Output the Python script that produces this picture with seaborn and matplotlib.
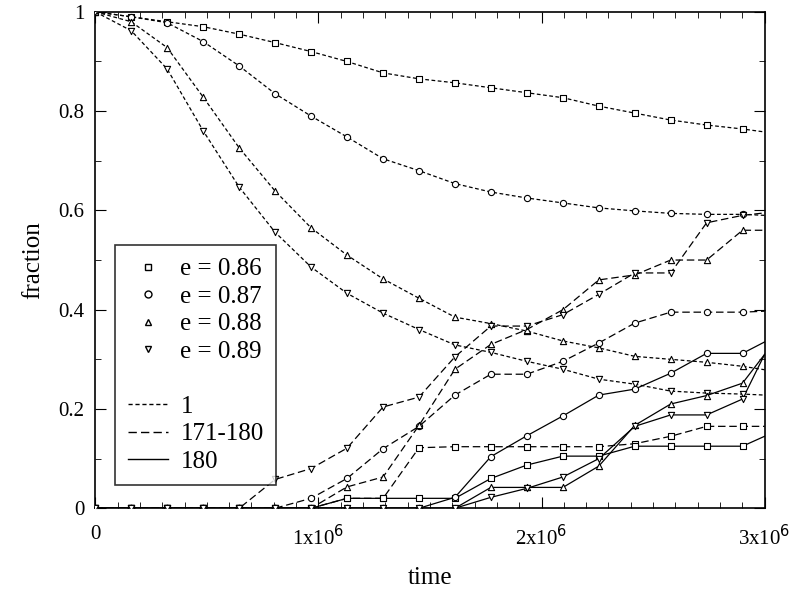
import matplotlib
matplotlib.use("Agg")
import matplotlib.pyplot as plt
import seaborn as sns
import pandas as pd
from matplotlib.lines import Line2D
from matplotlib.ticker import MultipleLocator, FixedLocator

time = [0, 0.161e6, 0.322e6, 0.484e6, 0.645e6, 0.806e6, 0.967e6, 1.128e6, 1.290e6, 1.451e6,
        1.612e6, 1.773e6, 1.934e6, 2.096e6, 2.257e6, 2.418e6, 2.579e6, 2.740e6, 2.901e6, 3.0e6]

labels_e = ["e = 0.86", "e = 0.87", "e = 0.88", "e = 0.89"]
markers = ["s", "o", "^", "v"]

# style "1" (decay)
d1 = [
    [1, .99, .98, .97, .955, .938, .92, .9, .877, .865, .857, .847, .837, .827, .81, .796, .782, .772, .764, .758],
    [1, .99, .978, .94, .891, .835, .79, .748, .704, .68, .654, .637, .625, .615, .605, .599, .594, .592, .592, .59],
    [1, .98, .928, .828, .726, .639, .565, .51, .462, .423, .385, .372, .357, .337, .323, .306, .3, .294, .286, .279],
    [1, .962, .885, .76, .647, .556, .486, .433, .393, .36, .329, .314, .296, .28, .26, .25, .236, .232, .23, .228],
]
# style "171-180"
d2 = [
    [0, 0, 0, 0, 0, 0, 0, .02, .02, .122, .124, .124, .124, .124, .124, .13, .145, .165, .165, .165],
    [0, 0, 0, 0, 0, 0, .02, .06, .12, .165, .228, .27, .27, .296, .333, .373, .395, .395, .395, .397],
    [0, 0, 0, 0, 0, 0, 0, .043, .063, .167, .28, .33, .36, .40, .46, .47, .50, .50, .56, .56],
    [0, 0, 0, 0, 0, .058, .08, .121, .204, .224, .305, .367, .367, .39, .431, .474, .474, .575, .59, .595],
]
# style "180"
d3 = [
    [0, 0, 0, 0, 0, 0, 0, .02, .02, .02, .02, .06, .087, .105, .105, .125, .125, .125, .125, .145],
    [0, 0, 0, 0, 0, 0, 0, 0, 0, 0, .022, .104, .146, .186, .228, .24, .272, .312, .312, .335],
    [0, 0, 0, 0, 0, 0, 0, 0, 0, 0, 0, .042, .042, .042, .085, .167, .21, .227, .252, .31],
    [0, 0, 0, 0, 0, 0, 0, 0, 0, 0, 0, .022, .04, .063, .10, .165, .188, .188, .22, .31],
]
styles = [("1", (0, (3, 2))), ("171-180", (0, (6, 3))), ("180", "-")]

plt.rcParams["font.family"] = "Liberation Serif"
fig = plt.figure(figsize=(7.94, 5.91), dpi=100)
ax = fig.add_axes([0.12, 0.14, 0.843, 0.84])

for (name, ls), data in zip(styles, [d1, d2, d3]):
    for lab, m, vals in zip(labels_e, markers, data):
        df = pd.DataFrame({"t": time[:-1], "f": vals[:-1]})
        dfl = pd.DataFrame({"t": time, "f": vals})
        sns.lineplot(data=dfl, x="t", y="f", ax=ax, color="black", linestyle=ls,
                     linewidth=0.9, legend=False)
        sns.scatterplot(data=df, x="t", y="f", ax=ax, marker=m, s=20, facecolor="white",
                        edgecolor="black", linewidth=0.8, legend=False, zorder=3, clip_on=True)

ax.set_xlim(0, 3e6)
ax.set_ylim(0, 1)
ax.xaxis.set_major_locator(FixedLocator([0, 1e6, 2e6, 3e6]))
ax.set_xticklabels(["0", r"1x10$^6$", r"2x10$^6$", r"3x10$^6$"])
ax.xaxis.set_minor_locator(MultipleLocator(1e5))
ax.set_yticks([0, .2, .4, .6, .8, 1])
ax.set_yticklabels(["0", "0.2", "0.4", "0.6", "0.8", "1"])
ax.yaxis.set_minor_locator(MultipleLocator(0.1))
ax.tick_params(which="both", direction="in", top=True, right=True, labelsize=15)
ax.tick_params(which="major", length=8)
ax.tick_params(which="minor", length=4)
ax.tick_params(axis="x", pad=12)
ax.tick_params(axis="y", pad=8)
ax.set_xlabel("time", fontsize=18, labelpad=12)
ax.set_ylabel("fraction", fontsize=18, labelpad=10)
for s in ax.spines.values():
    s.set_linewidth(1.2)

handles = [Line2D([], [], marker=m, linestyle="none", markerfacecolor="white",
                  markeredgecolor="black", markersize=5) for m in markers]
handles += [Line2D([], [], linestyle="none")]
handles += [Line2D([], [], color="black", linestyle=ls, linewidth=1) for _, ls in styles]
labs = labels_e + [""] + [n for n, _ in styles]
leg = ax.legend(handles, labs, loc="lower left", bbox_to_anchor=(0.03, 0.046), fontsize=18,
                frameon=True, fancybox=False, edgecolor="black", handlelength=1.6,
                labelspacing=0.2, borderpad=0.5, handletextpad=0.5, borderaxespad=0)
leg.get_frame().set_linewidth(1.2)

fig.savefig("out.png", dpi=100)
